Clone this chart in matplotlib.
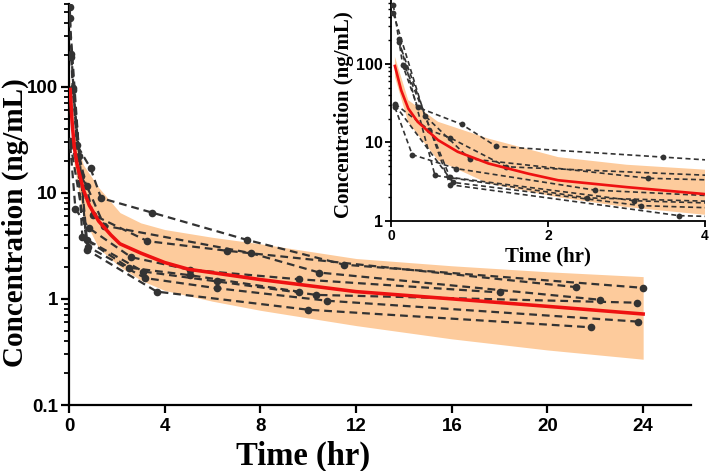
import matplotlib
matplotlib.use("Agg")
import matplotlib.pyplot as plt
import numpy as np

# ---------------- data ----------------
subj_t = [
    [0.03, 0.15, 0.34, 0.90, 1.34, 3.47, 7.43, 11.5, 24.0],
    [0.03, 0.43, 1.00, 3.28, 6.60, 21.2],
    [0.05, 0.49, 0.75, 1.47, 7.60, 10.46, 22.2],
    [0.05, 0.27, 0.83, 2.60, 5.06, 9.60, 18.0],
    [0.10, 0.56, 2.50, 5.06, 9.60],
    [0.18, 0.75, 3.10, 6.18, 10.33, 23.75],
    [0.05, 0.79, 3.18, 6.18, 10.8, 23.8],
    [0.10, 0.75, 3.67, 10.0, 21.8],
]
subj_c = [
    [560, 96, 28, 17, 8.9, 6.5, 3.6, 2.1, 1.27],
    [440, 22, 6.2, 3.5, 2.84, 1.29],
    [31, 14.3, 11.5, 4.9, 2.7, 1.77, 0.98],
    [28, 7.0, 4.65, 2.47, 1.88, 1.53, 1.15],
    [205, 3.8, 1.97, 1.67, 1.17],
    [92, 3.6, 1.81, 1.46, 1.09, 0.92],
    [30, 3.1, 1.57, 1.26, 0.96, 0.61],
    [190, 2.9, 1.17, 0.79, 0.54],
]

pred_t = [0.05, 0.13, 0.22, 0.34, 0.6, 0.85, 1.24, 1.75, 2.13, 3, 4, 5, 8,
          12, 16, 20, 24]
pred_c = [94, 46, 27, 18.3, 10.7, 7.6, 5.4, 4.0, 3.3, 2.7, 2.2, 1.9, 1.52,
          1.17, 1.0, 0.85, 0.72]

band_t = [0.05, 0.22, 0.6, 1.24, 2.13, 3, 4, 6, 8, 12, 16, 20, 24]
band_hi = [123, 34.5, 18.3, 11.2, 6.5, 5.2, 4.5, 3.8, 3.3, 2.4, 2.05, 1.8, 1.62]
band_lo = [68, 18, 5.9, 3.0, 2.0, 1.5, 1.2, 0.95, 0.78, 0.56, 0.42, 0.33, 0.27]

main_xticks = [0, 4, 8, 12, 16, 20, 24]
main_yticks = [0.1, 1, 10, 100]
main_yticklabels = ["0.1", "1", "10", "100"]
inset_xticks = [0, 2, 4]
inset_yticks = [1, 10, 100]
inset_yticklabels = ["1", "10", "100"]

# ---------------- style ----------------
BAND = "#FDCB9C"
RED = "#EE1111"
DOT = "#333333"
SANS = "Liberation Sans"
SERIF = "Liberation Serif"

fig = plt.figure(figsize=(7.09, 4.71), dpi=100)

W, H = 709, 471
ax = fig.add_axes([69 / W, 1 - 405 / H, (691 - 69) / W, (405 - 4) / H])
axi = fig.add_axes([391 / W, 1 - 221 / H, (705 - 391) / W, 221 / H])


def draw(a, lw, ms, dash):
    a.fill_between(band_t, band_lo, band_hi, color=BAND, lw=0, zorder=1)
    for t, c in zip(subj_t, subj_c):
        a.plot(t, c, ls=(0, dash), color=DOT, lw=lw, marker="o", ms=ms,
               markeredgewidth=0, zorder=3)
    a.plot(pred_t, pred_c, color=RED, lw=lw * 1.6, zorder=4)
    a.set_yscale("log")
    for s in ["top", "right"]:
        a.spines[s].set_visible(False)


draw(ax, 1.6, 5.5, (3.5, 2.2))
ax.set_xlim(0, 26)
ax.set_ylim(0.1, 600)
ax.set_xticks(main_xticks)
ax.set_yticks(main_yticks)
ax.set_yticklabels(main_yticklabels)
for s in ["left", "bottom"]:
    ax.spines[s].set_linewidth(1.6)
ax.tick_params(axis="both", which="major", length=6, width=1.6, direction="out")
ax.tick_params(axis="y", which="major", pad=2)
ax.tick_params(axis="y", which="minor", length=3.5, width=1.3, direction="out")
for lab in ax.get_xticklabels() + ax.get_yticklabels():
    lab.set_fontfamily(SANS)
    lab.set_fontweight("bold")
    lab.set_fontsize(13.5)
ax.set_xlabel("Time (hr)", family=SERIF, weight="bold", fontsize=23.5)
ax.xaxis.set_label_coords(0.376, -0.09)
ax.set_ylabel("Concentration (ng/mL)", family=SERIF, weight="bold", fontsize=21)
ax.yaxis.set_label_coords(-0.065, 0.455)

draw(axi, 1.2, 4.2, (3.0, 2.0))
axi.set_facecolor("white")
axi.set_xlim(0, 4)
axi.set_ylim(1, 650)
axi.set_xticks(inset_xticks)
axi.set_yticks(inset_yticks)
axi.set_yticklabels(inset_yticklabels)
for s in ["left", "bottom"]:
    axi.spines[s].set_linewidth(1.3)
axi.tick_params(axis="both", which="major", length=4, width=1.3, direction="out", pad=2)
axi.tick_params(axis="y", which="minor", length=2.5, width=1.0, direction="out")
for lab in axi.get_xticklabels():
    lab.set_fontfamily(SANS)
    lab.set_fontweight("bold")
    lab.set_fontsize(10)
for lab in axi.get_yticklabels():
    lab.set_fontfamily(SANS)
    lab.set_fontweight("bold")
    lab.set_fontsize(11.5)
axi.set_xlabel("Time (hr)", family=SERIF, weight="bold", fontsize=15)
axi.xaxis.set_label_coords(0.5, -0.115)
axi.set_ylabel("Concentration (ng/mL)", family=SERIF, weight="bold", fontsize=15)
axi.yaxis.set_label_coords(-0.118, 0.48)

fig.savefig("out.png", dpi=100)
